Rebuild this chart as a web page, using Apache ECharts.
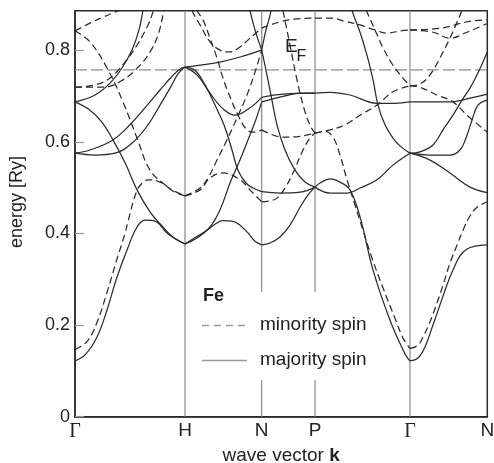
<!DOCTYPE html>
<html><head><meta charset="utf-8">
<script src="https://cdn.jsdelivr.net/npm/echarts@6/dist/echarts.min.js"></script>
<style>html,body{margin:0;padding:0;background:#fff}#c{width:494px;height:463px}</style>
</head><body><div id="c"></div>
<script>
// High-symmetry points along the path (wave vector, units 2π/a)
const kPoints = [0, 1, 1.697, 2.182, 3.045, 3.748];
const kLabels = ['Γ', 'H', 'N', 'P', 'Γ', 'N'];
const yTicks = [0, 0.2, 0.4, 0.6, 0.8];
const fermiEnergy = 0.757;
const energyMax = 0.886;

// Bands per path segment: [fraction along segment, energy (Ry)]
// Γ-H
const majGH = [
 [[0,.122],[.091,.135],[.2,.174],[.291,.233],[.382,.305],[.473,.364],[.564,.414],[.636,.429],[.727,.427],[.836,.401],[.927,.386],[1,.377]],
 [[0,.687],[.136,.669],[.245,.643],[.345,.604],[.455,.554],[.564,.495],[.682,.447],[.773,.421],[.882,.394],[1,.377]],
 [[0,.687],[.182,.702],[.318,.728],[.427,.761],[.518,.800],[.582,.844],[.618,.887],[.64,.92]],
 [[0,.575],[.136,.582],[.345,.604],[.5,.637],[.636,.674],[.773,.713],[.882,.743],[.955,.759],[1,.763]],
 [[0,.575],[.182,.571],[.364,.575],[.527,.599],[.664,.637],[.773,.680],[.864,.717],[.936,.748],[1,.763]]
];
const minGH = [
 [[0,.147],[.109,.164],[.197,.204],[.288,.269],[.379,.342],[.455,.400],[.485,.429],[.561,.492],[.62,.512],[.666,.517],[.773,.512],[.882,.495],[1,.482]],
 [[0,.842],[.136,.818],[.291,.761],[.436,.687],[.564,.608],[.682,.538],[.818,.506],[.909,.490],[1,.482]],
 [[0,.842],[.136,.859],[.255,.872],[.364,.883],[.455,.892],[.55,.905]],
 [[0,.719],[.255,.719],[.436,.735],[.591,.767],[.682,.796],[.755,.833],[.8,.877],[.82,.9]],
 [[0,.719],[.182,.724],[.318,.739],[.455,.774],[.564,.811],[.664,.855],[.709,.883],[.73,.9]]
];
// H-N
const majHN = [
 [[0,.377],[.143,.392],[.287,.407],[.391,.420],[.495,.428],[.613,.427],[.717,.418],[.821,.401],[.913,.383],[1,.375]],
 [[0,.377],[.156,.390],[.326,.414],[.456,.451],[.587,.510],[.717,.560],[.821,.604],[.913,.643],[1,.687]],
 [[0,.763],[.13,.756],[.261,.724],[.391,.680],[.508,.637],[.613,.582],[.691,.538],[.795,.510],[.887,.499],[1,.491]],
 [[0,.763],[.2,.767],[.456,.774],[.717,.785],[1,.800]],
 [[0,.763],[.156,.746],[.326,.706],[.482,.674],[.652,.658],[.847,.674],[1,.697]],
 [[.82,.91],[.847,.887],[.913,.844],[1,.800]]
];
const minHN = [
 [[0,.482],[.196,.495],[.326,.521],[.495,.532],[.717,.517],[.847,.495],[1,.469]],
 [[0,.482],[.196,.499],[.300,.521],[.417,.560],[.547,.604],[.678,.652],[.808,.702],[.913,.752],[1,.800]],
 [[.13,.91],[.156,.887],[.235,.866],[.326,.826],[.417,.783],[.495,.739],[.587,.698],[.691,.658],[.808,.626],[.900,.621],[1,.626]],
 [[.06,.91],[.091,.887],[.196,.855],[.326,.818],[.456,.800],[.587,.796],[.717,.807],[.847,.826],[1,.848]]
];
// N-P
const majNP = [
 [[0,.375],[.156,.379],[.343,.392],[.531,.418],[.719,.457],[.869,.484],[1,.501]],
 [[0,.491],[.343,.488],[.719,.490],[1,.501]],
 [[0,.687],[.436,.700],[.719,.706],[1,.706]],
 [[0,.697],[.4,.704],[1,.706]],
 [[0,.800],[.081,.756],[.174,.702],[.287,.637],[.437,.582],[.625,.538],[.812,.512],[1,.501]],
 [[0,.800],[.081,.844],[.156,.876],[.21,.91]]
];
const minNP = [
 [[0,.469],[.156,.471],[.287,.477],[.437,.499],[.587,.532],[.774,.582],[.906,.608],[1,.619]],
 [[0,.626],[.4,.610],[.719,.612],[1,.619]],
 [[.36,.91],[.399,.887],[.530,.811],[.662,.735],[.793,.673],[.906,.636],[1,.619]],
 [[0,.848],[.5,.866],[1,.870]]
];
// P-Γ
const majPG = [
 [[0,.501],[.053,.510],[.158,.519],[.263,.512],[.368,.495],[.474,.436],[.611,.320],[.789,.211],[.926,.146],[.968,.130],[1,.122]],
 [[0,.501],[.158,.488],[.337,.488],[.474,.499],[.653,.517],[.821,.549],[1,.575]],
 [[.37,.91],[.389,.887],[.474,.839],[.547,.789],[.611,.735],[.663,.680],[.737,.637],[.821,.608],[.895,.591],[1,.575]],
 [[0,.706],[.158,.708],[.368,.702],[.653,.684],[.842,.684],[1,.687]]
];
const minPG = [
 [[0,.619],[.105,.623],[.189,.610],[.263,.571],[.337,.517],[.421,.462],[.505,.407],[.600,.346],[.705,.287],[.842,.215],[.926,.172],[1,.149]],
 [[0,.619],[.158,.626],[.316,.637],[.474,.658],[.653,.680],[.821,.709],[1,.722]],
 [[.5,.91],[.516,.898],[.547,.883],[.632,.844],[.716,.805],[.821,.767],[.926,.739],[1,.722]],
 [[0,.870],[.158,.870],[.316,.863],[.474,.855],[.632,.844],[.758,.837],[.895,.842],[1,.844]]
];
// Γ-N
const majGN = [
 [[0,.122],[.103,.128],[.194,.152],[.285,.194],[.388,.244],[.479,.288],[.556,.320],[.647,.351],[.737,.366],[.841,.372],[1,.375]],
 [[0,.575],[.259,.560],[.517,.532],[.776,.501],[1,.489]],
 [[0,.575],[.259,.571],[.517,.571],[.647,.582],[.724,.608],[.802,.647],[.879,.680],[1,.691]],
 [[0,.575],[.129,.578],[.298,.593],[.427,.626],[.556,.658],[.673,.691],[.776,.717],[.867,.746],[.944,.774],[1,.796]],
 [[0,.687],[.259,.687],[.517,.687],[.776,.695],[1,.704]]
];
const minGN = [
 [[0,.149],[.103,.156],[.168,.174],[.259,.207],[.349,.248],[.427,.287],[.517,.335],[.608,.374],[.686,.407],[.776,.438],[.867,.457],[1,.469]],
 [[0,.722],[.129,.719],[.349,.702],[.556,.687],[.737,.658],[1,.621]],
 [[0,.722],[.129,.726],[.259,.746],[.388,.783],[.517,.826],[.608,.861],[.672,.887],[.70,.91]],
 [[0,.844],[.3,.839],[.517,.826],[.737,.839],[1,.858]],
 [[0,.844],[.4,.848],[.75,.862],[1,.866]]
];

const majority = [majGH, majHN, majNP, majPG, majGN];
const minority = [minGH, minHN, minNP, minPG, minGN];

// vertical guide lines at interior points; N and P lines interrupted behind the legend
const vLineK = [1, 1.697, 2.182, 3.045];
const vLineSpans = [[[0, energyMax]], [[0, 0.080], [0.272, energyMax]], [[0, 0.080], [0.272, energyMax]], [[0, energyMax]]];

const FONT = '"Liberation Sans", Arial, sans-serif';
const curveColor = '#2b2b2b';
const series = [];

vLineK.forEach((k, i) => {
  vLineSpans[i].forEach(sp => {
    series.push({type: 'line', silent: true, symbol: 'none', z: 1,
      lineStyle: {color: '#8a8a8a', width: 1.2},
      data: [[k, sp[0]], [k, sp[1]]]});
  });
});
series.push({type: 'line', silent: true, symbol: 'none', z: 1,
  lineStyle: {color: '#8e8e8e', width: 1.2, type: [12, 4]},
  data: [[kPoints[0], fermiEnergy], [kPoints[5], fermiEnergy]]});

function addBands(groups, dashed) {
  groups.forEach((curves, s) => {
    const k0 = kPoints[s], k1 = kPoints[s + 1];
    curves.forEach(c => {
      series.push({type: 'line', silent: true, symbol: 'none', smooth: 0.4, z: 3,
        lineStyle: {color: curveColor, width: 1.25, type: dashed ? [7, 4] : 'solid'},
        data: c.map(p => [k0 + p[0] * (k1 - k0), p[1]])});
    });
  });
}
addBands(majority, false);
addBands(minority, true);

const chart = echarts.init(document.getElementById('c'), null, {renderer: 'canvas'});
chart.setOption({
  animation: false,
  backgroundColor: '#ffffff',
  grid: {left: 75, right: 6.7, top: 10.7, bottom: 46.3, outerBoundsMode: 'none', containLabel: false,
    show: true, borderColor: '#2a2a2a', borderWidth: 1.5, backgroundColor: 'transparent'},
  xAxis: {
    type: 'value', min: kPoints[0], max: kPoints[5],
    name: 'wave vector {b|k}', nameLocation: 'middle', nameGap: 27,
    nameTextStyle: {fontFamily: FONT, fontSize: 19, color: '#222', rich: {b: {fontFamily: FONT, fontSize: 19, fontWeight: 'bold', color: '#222'}}},
    axisLine: {show: true, lineStyle: {color: '#2a2a2a', width: 1.5}},
    axisTick: {show: false},
    splitLine: {show: false},
    axisLabel: {
      customValues: kPoints, margin: 5, fontFamily: FONT, fontSize: 19, color: '#222',
      formatter: v => {
        const i = kPoints.findIndex(k => Math.abs(k - v) < 1e-6);
        const s = kLabels[i];
        return s === 'Γ' ? '{g|Γ}' : s;
      },
      rich: {g: {fontFamily: '"Liberation Serif", "DejaVu Serif", serif', fontSize: 20, color: '#222'}}
    }
  },
  yAxis: {
    type: 'value', min: 0, max: energyMax,
    axisLine: {show: true, lineStyle: {color: '#2a2a2a', width: 1.5}},
    axisTick: {show: true, inside: true, length: 9, customValues: yTicks, lineStyle: {color: '#9a9a9a', width: 1.2}},
    splitLine: {show: false},
    axisLabel: {customValues: yTicks, margin: 5, fontFamily: FONT, fontSize: 18, color: '#222',
      formatter: v => (v === 0 ? '0' : v.toFixed(1))}
  },
  series: series,
  graphic: [
    {type: 'text', x: 17, y: 202, rotation: Math.PI / 2, style: {text: 'energy [Ry]', font: '18px ' + FONT, fill: '#222', align: 'center', textAlign: 'center', verticalAlign: 'middle', textVerticalAlign: 'middle'}},
    {type: 'text', x: 285, y: 46.5, style: {text: 'E', font: '19px ' + FONT, fill: '#222', verticalAlign: 'middle', textVerticalAlign: 'middle'}},
    {type: 'text', x: 296.5, y: 56.5, style: {text: 'F', font: '16px ' + FONT, fill: '#222', verticalAlign: 'middle', textVerticalAlign: 'middle'}},
    {type: 'text', x: 203, y: 296, style: {text: 'Fe', font: 'bold 18px ' + FONT, fill: '#222', verticalAlign: 'middle', textVerticalAlign: 'middle'}},
    {type: 'line', shape: {x1: 202, y1: 325.5, x2: 247, y2: 325.5}, style: {stroke: '#9a9a9a', lineWidth: 1.3, lineDash: [7, 5]}},
    {type: 'text', x: 260, y: 325, style: {text: 'minority spin', font: '19px ' + FONT, fill: '#222', verticalAlign: 'middle', textVerticalAlign: 'middle'}},
    {type: 'line', shape: {x1: 202, y1: 360.5, x2: 247, y2: 360.5}, style: {stroke: '#9a9a9a', lineWidth: 1.3}},
    {type: 'text', x: 260, y: 360, style: {text: 'majority spin', font: '19px ' + FONT, fill: '#222', verticalAlign: 'middle', textVerticalAlign: 'middle'}}
  ]
});
</script>
</body></html>
